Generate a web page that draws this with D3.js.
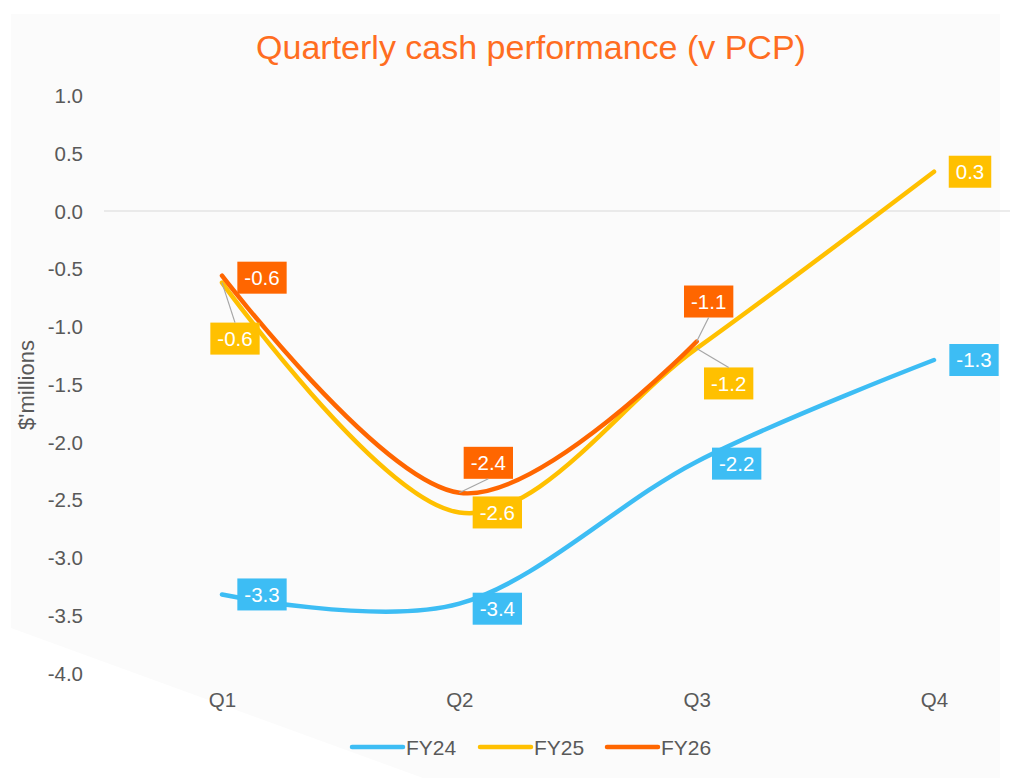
<!DOCTYPE html>
<html>
<head>
<meta charset="utf-8">
<script src="https://cdn.jsdelivr.net/npm/d3@7"></script>
<style>
  html, body { margin: 0; padding: 0; background: #ffffff; }
  svg { display: block; font-family: "Liberation Sans", Arial, sans-serif; }
</style>
</head>
<body>
<svg id="chart" width="1010" height="778"></svg>
<script>
// ---- data ----
const quarters = ["Q1", "Q2", "Q3", "Q4"];
const seriesNames = ["FY24", "FY25", "FY26"];
const fy24 = [-3.32, -3.40, -2.17, -1.29];
const fy25 = [-0.62, -2.61, -1.19, 0.34];
const fy26 = [-0.56, -2.44, -1.13];
const yTicks = [1.0, 0.5, 0.0, -0.5, -1.0, -1.5, -2.0, -2.5, -3.0, -3.5, -4.0];
const title = "Quarterly cash performance (v PCP)";
const yTitle = "$'millions";

// ---- styling / placement ----
const colors = { FY24: "#3dbdf4", FY25: "#ffc000", FY26: "#ff6600" };
// label box centre offsets from point (px), leader = draw leader line
const labelPlacement = {
  FY24: [[40, 0], [38, 5], [40, 2], [40, 0]],
  FY25: [[13, 56, true], [38, 0], [32, 35, true], [36, 0]],
  FY26: [[40, 2], [29, -30, true], [12, -40, true]]
};

const svg = d3.select("#chart");
const fmt = d => d.toFixed(1);

// background panel
svg.append("polygon")
  .attr("points", "11,14 1000,14 1000,778 423,778 11,628")
  .attr("fill", "#fbfbfb");

const x = d3.scalePoint().domain(quarters).range([222, 934]);
const y = d3.scaleLinear().domain([-4, 1]).range([673, 95.5]);

// title
svg.append("text")
  .attr("x", 531).attr("y", 47)
  .attr("text-anchor", "middle").attr("dominant-baseline", "central")
  .attr("font-size", 34).attr("fill", "#ff6d21")
  .text(title);

// y axis title
svg.append("text")
  .attr("transform", "translate(26,385) rotate(-90)")
  .attr("text-anchor", "middle").attr("dominant-baseline", "central")
  .attr("font-size", 22).attr("fill", "#595959")
  .text(yTitle);

// zero gridline
svg.append("line")
  .attr("x1", 104).attr("x2", 1010)
  .attr("y1", y(0)).attr("y2", y(0))
  .attr("stroke", "#d9d9d9").attr("stroke-width", 1.2);

// y axis (labels only)
const yAxis = d3.axisLeft(y).tickValues(yTicks).tickFormat(fmt).tickSize(0).tickPadding(0);
const yg = svg.append("g").attr("transform", "translate(83,0)").call(yAxis);
yg.select(".domain").remove();
yg.selectAll("text").attr("font-size", 20.5).attr("fill", "#595959")
  .attr("font-family", "Liberation Sans, Arial, sans-serif").attr("dy", "0.35em");

// x axis (labels only)
const xAxis = d3.axisBottom(x).tickSize(0).tickPadding(0);
const xg = svg.append("g").attr("transform", "translate(0,700)").call(xAxis);
xg.select(".domain").remove();
xg.selectAll("text").attr("font-size", 20.5).attr("fill", "#595959")
  .attr("font-family", "Liberation Sans, Arial, sans-serif").attr("dy", "0.35em");

// lines
const seriesData = { FY24: fy24, FY25: fy25, FY26: fy26 };
const line = d3.line()
  .x((d, i) => x(quarters[i]))
  .y(d => y(d))
  .curve(d3.curveCardinal.tension(0));

seriesNames.forEach(name => {
  svg.append("path")
    .datum(seriesData[name])
    .attr("d", line)
    .attr("fill", "none")
    .attr("stroke", colors[name])
    .attr("stroke-width", 4.5)
    .attr("stroke-linecap", "round")
    .attr("stroke-linejoin", "round");
});

// data labels
seriesNames.forEach(name => {
  seriesData[name].forEach((v, i) => {
    const px = x(quarters[i]), py = y(v);
    const [dx, dy, leader] = labelPlacement[name][i];
    const cx = px + dx, cy = py + dy;
    const g = svg.append("g");
    const t = g.append("text")
      .attr("x", cx).attr("y", cy)
      .attr("text-anchor", "middle").attr("dominant-baseline", "central")
      .attr("font-size", 20.5).attr("fill", "#ffffff")
      .text(fmt(v));
    const bb = t.node().getBBox();
    const bw = bb.width + 14, bh = 32;
    g.insert("rect", "text")
      .attr("x", cx - bw / 2).attr("y", cy - bh / 2)
      .attr("width", bw).attr("height", bh)
      .attr("fill", colors[name]);
    if (leader) {
      const ey = dy > 0 ? cy - bh / 2 : cy + bh / 2;
      svg.append("line")
        .attr("x1", px).attr("y1", py)
        .attr("x2", cx).attr("y2", ey)
        .attr("stroke", "#a6a6a6").attr("stroke-width", 1.2);
    }
  });
});

// legend
const legendItems = [
  { name: "FY24", x0: 352 },
  { name: "FY25", x0: 480 },
  { name: "FY26", x0: 607 }
];
legendItems.forEach(it => {
  svg.append("line")
    .attr("x1", it.x0).attr("x2", it.x0 + 51)
    .attr("y1", 747).attr("y2", 747)
    .attr("stroke", colors[it.name]).attr("stroke-width", 4.5)
    .attr("stroke-linecap", "round");
  svg.append("text")
    .attr("x", it.x0 + 54).attr("y", 747)
    .attr("dominant-baseline", "central")
    .attr("font-size", 21).attr("fill", "#595959")
    .text(it.name);
});
</script>
</body>
</html>
